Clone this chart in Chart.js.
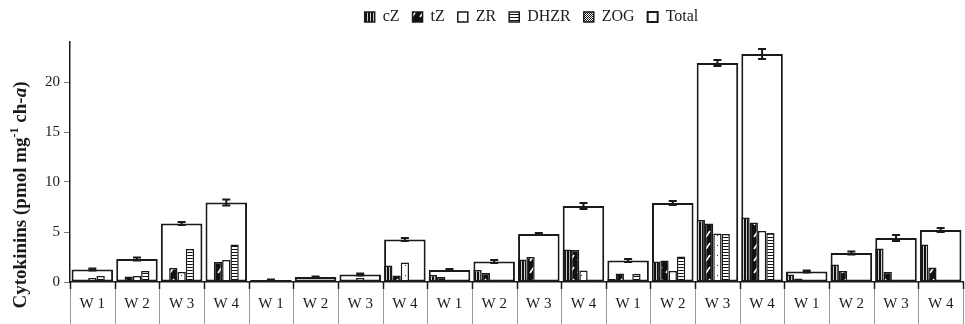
<!DOCTYPE html>
<html>
<head>
<meta charset="utf-8">
<script src="https://cdn.jsdelivr.net/npm/chart.js@4.4.0/dist/chart.umd.min.js"></script>
<style>
html, body { margin: 0; padding: 0; background: #fff; }
#wrap { width: 965px; height: 324px; }
</style>
</head>
<body>
<div id="wrap"><canvas id="myChart" width="965" height="324"></canvas></div>
<script>
// data
const weeks = ['W 1','W 2','W 3','W 4','W 1','W 2','W 3','W 4','W 1','W 2','W 3','W 4',
               'W 1','W 2','W 3','W 4','W 1','W 2','W 3','W 4'];
const cZ    = [0, 0, 0, 0,        0.1, 0.2, 0.2, 1.65,   0.7, 1.2, 2.25, 3.25,   0.3, 2.05, 6.2, 6.45,   0.75, 1.75, 3.35, 3.75];
const tZ    = [0.2, 0.55, 1.4, 2.0, 0.05, 0.15, 0.1, 0.65, 0.5, 0.9, 2.5, 3.2,   0.85, 2.15, 5.85, 5.95, 0.35, 1.1, 1.0, 1.45];
const ZR    = [0.4, 0.6, 1.0, 2.2,  0.1, 0.1, 0.4, 1.95,  0, 0, 0, 1.15,         0.1, 1.1, 4.85, 5.1,    0, 0, 0, 0];
const DHZR  = [0.6, 1.1, 3.3, 3.75, 0.05, 0.1, 0, 0,      0, 0, 0, 0,            0.8, 2.55, 4.8, 4.9,    0, 0, 0, 0];
const ZOG   = [0, 0, 0, 0,          0, 0, 0, 0,           0, 0, 0, 0,            0, 0, 0, 0.2,           0, 0, 0, 0];
const total = [1.25, 2.3, 5.85, 7.95, 0.2, 0.5, 0.75, 4.25, 1.2, 2.05, 4.8, 7.6, 2.15, 7.9, 21.9, 22.8, 1.05, 2.9, 4.4, 5.2];
const totalErr = [0.1, 0.15, 0.15, 0.3, 0.05, 0.05, 0.1, 0.15, 0.1, 0.15, 0.1, 0.3, 0.15, 0.2, 0.3, 0.5, 0.1, 0.15, 0.3, 0.2];
const yTicks = [0, 5, 10, 15, 20];
const yTitleParts = [['Cytokinins (pmol mg', ''], ['-1', 'sup'], [' ch-', ''], ['a', 'it'], [')', '']];

const serif = '"Liberation Serif", "Times New Roman", serif';
const ink = '#1a1a1a';

// fill patterns like the excel ones
function makePattern(w, h, draw) {
  const c = document.createElement('canvas');
  c.width = w; c.height = h;
  const g = c.getContext('2d');
  draw(g, w, h);
  return g.createPattern(c, 'repeat');
}
const patCZ = makePattern(3, 1, (g) => {
  g.fillStyle = '#111'; g.fillRect(0, 0, 3, 1);
  g.fillStyle = '#ccc'; g.fillRect(2, 0, 1, 1);
});
const patTZ = makePattern(8, 12, (g) => {
  g.fillStyle = '#111'; g.fillRect(0, 0, 8, 12);
  g.strokeStyle = '#fff'; g.lineWidth = 1.6;
  g.beginPath(); g.moveTo(2, 9); g.lineTo(6, 3); g.stroke();
});
const patZR = makePattern(8, 10, (g) => {
  g.fillStyle = '#fff'; g.fillRect(0, 0, 8, 10);
  g.fillStyle = '#333'; g.fillRect(5, 5, 1, 1);
});
const patDHZR = makePattern(1, 3, (g) => {
  g.fillStyle = '#fff'; g.fillRect(0, 0, 1, 3);
  g.fillStyle = '#111'; g.fillRect(0, 0, 1, 1);
});
const patZOG = makePattern(2, 2, (g) => {
  g.fillStyle = '#fff'; g.fillRect(0, 0, 2, 2);
  g.fillStyle = '#111'; g.fillRect(0, 0, 1, 1); g.fillRect(1, 1, 1, 1);
});

function small(label, data, fill) {
  return {
    label: label, data: data, backgroundColor: fill,
    borderColor: ink, borderWidth: 1.5, borderSkipped: false,
    categoryPercentage: 0.93, barPercentage: 1, order: 1
  };
}

// error bars on the Total bars
const errorBars = {
  id: 'errorBars',
  afterDatasetsDraw(chart) {
    const meta = chart.getDatasetMeta(5);
    const y = chart.scales.y;
    const ctx = chart.ctx;
    ctx.save();
    ctx.strokeStyle = ink;
    ctx.lineWidth = 2;
    meta.data.forEach((bar, i) => {
      const top = y.getPixelForValue(total[i] + totalErr[i]);
      const bot = y.getPixelForValue(total[i] - totalErr[i]);
      ctx.beginPath();
      ctx.moveTo(bar.x, top); ctx.lineTo(bar.x, bot);
      ctx.moveTo(bar.x - 4, top); ctx.lineTo(bar.x + 4, top);
      ctx.moveTo(bar.x - 4, bot); ctx.lineTo(bar.x + 4, bot);
      ctx.stroke();
    });
    ctx.restore();
  }
};

// category separators below the axis, y axis title, legend placement
const decorations = {
  id: 'decorations',
  beforeInit(chart) {
    const lg = chart.legend;
    const fit = lg.fit;
    lg.fit = function () { fit.call(this); this.height = 42; };
    const draw = lg.draw;
    lg.draw = function () {
      this.ctx.save();
      this.ctx.translate(50, -4);
      draw.call(this);
      this.ctx.restore();
    };
  },
  afterDraw(chart) {
    const x = chart.scales.x, y = chart.scales.y;
    const ctx = chart.ctx;
    const n = weeks.length;
    ctx.save();
    for (let i = 0; i <= n; i++) {
      let px;
      if (i === 0) px = x.left;
      else if (i === n) px = x.right;
      else px = (x.getPixelForTick(i - 1) + x.getPixelForTick(i)) / 2;
      px = Math.round(px) + 0.5;
      ctx.strokeStyle = '#999';
      ctx.lineWidth = 1;
      ctx.beginPath(); ctx.moveTo(px, y.bottom); ctx.lineTo(px, chart.height); ctx.stroke();
      ctx.strokeStyle = ink;
      ctx.lineWidth = 1.5;
      ctx.beginPath(); ctx.moveTo(px, y.bottom); ctx.lineTo(px, y.bottom + 7); ctx.stroke();
    }
    // y title
    ctx.translate(21, 195);
    ctx.rotate(-Math.PI / 2);
    ctx.fillStyle = ink;
    ctx.textBaseline = 'middle';
    const fontOf = (k) => k === 'sup' ? 'bold 12px ' + serif : (k === 'it' ? 'italic bold 19px ' + serif : 'bold 19px ' + serif);
    let w = 0;
    yTitleParts.forEach(p => { ctx.font = fontOf(p[1]); w += ctx.measureText(p[0]).width; });
    let cx = -w / 2;
    yTitleParts.forEach(p => {
      ctx.font = fontOf(p[1]);
      ctx.fillText(p[0], cx, p[1] === 'sup' ? -6 : 0);
      cx += ctx.measureText(p[0]).width;
    });
    ctx.restore();
  }
};

new Chart(document.getElementById('myChart'), {
  type: 'bar',
  data: {
    labels: weeks,
    datasets: [
      small('cZ', cZ, patCZ),
      small('tZ', tZ, patTZ),
      small('ZR', ZR, patZR),
      small('DHZR', DHZR, patDHZR),
      small('ZOG', ZOG, patZOG),
      {
        label: 'Total', data: total, backgroundColor: '#fff',
        borderColor: ink, borderWidth: 2, borderSkipped: false,
        grouped: false, categoryPercentage: 0.93, barPercentage: 1, order: 10
      }
    ]
  },
  options: {
    responsive: false,
    animation: false,
    devicePixelRatio: 1,
    layout: { padding: { left: 0, right: 2, top: 0, bottom: 0 } },
    plugins: {
      tooltip: { enabled: false },
      legend: {
        position: 'top',
        labels: {
          font: { family: serif, size: 16 },
          color: ink,
          boxWidth: 10, boxHeight: 10,
          padding: 13
        }
      }
    },
    scales: {
      x: {
        grid: { display: false },
        border: { display: true, color: ink, width: 1.5 },
        ticks: { font: { family: serif, size: 15 }, color: ink, padding: 5, maxRotation: 0, autoSkip: false },
        afterFit(scale) { scale.height = 42; }
      },
      y: {
        min: 0, max: 24,
        grid: { drawOnChartArea: false, tickLength: 6, color: '#777' },
        border: { display: true, color: ink, width: 1.5 },
        ticks: { stepSize: 5, font: { family: serif, size: 15 }, color: ink, padding: 4 },
        afterBuildTicks(scale) { scale.ticks = yTicks.map(v => ({ value: v })); },
        afterFit(scale) { scale.width = 70; }
      }
    }
  },
  plugins: [errorBars, decorations]
});
</script>
</body>
</html>
